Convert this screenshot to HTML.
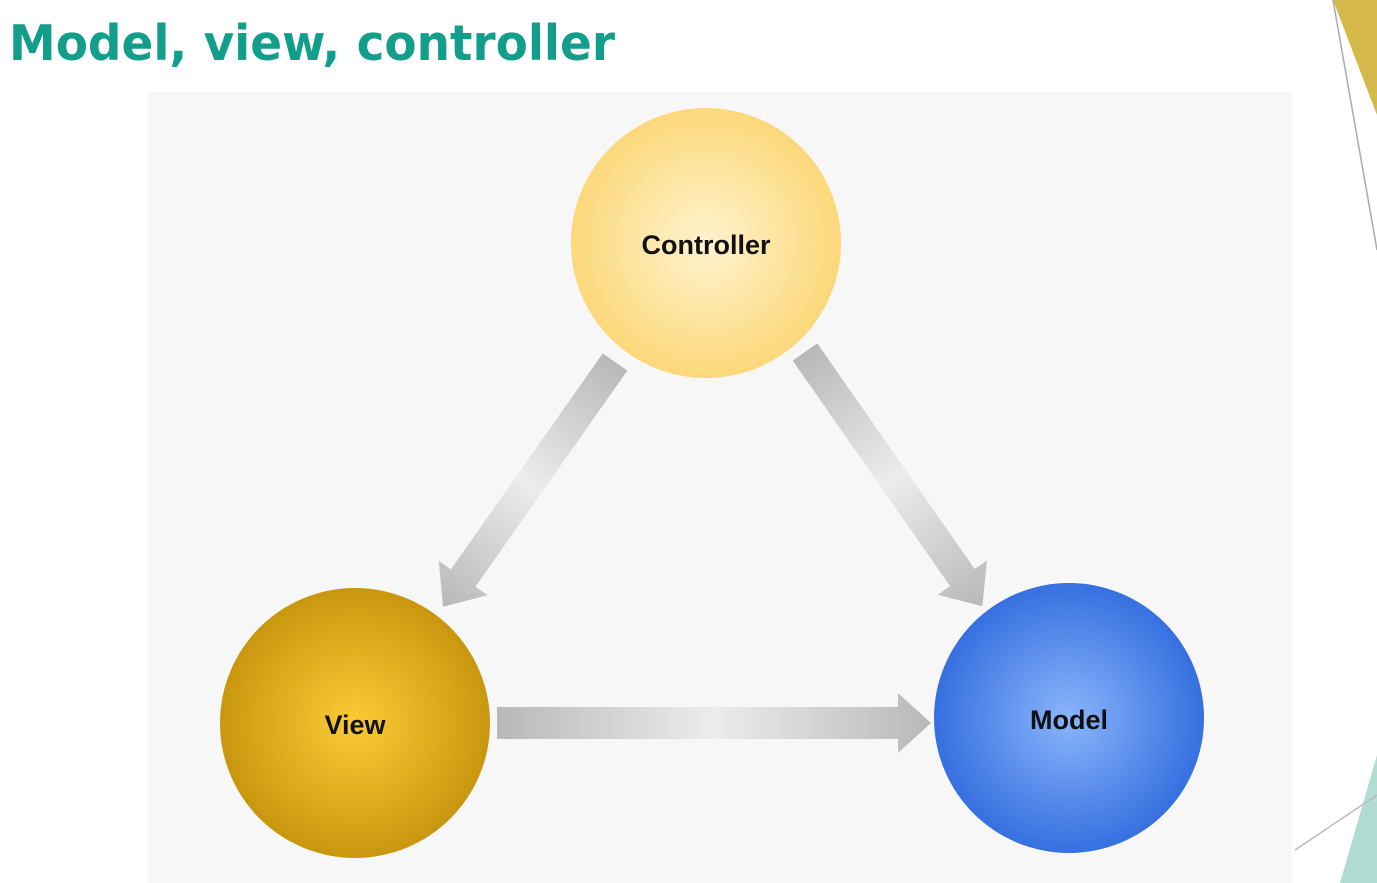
<!DOCTYPE html>
<html><head><meta charset="utf-8"><style>
html,body{margin:0;padding:0;background:#fff;}
body{width:1377px;height:883px;overflow:hidden;position:relative;font-family:"Liberation Sans",sans-serif;}
</style></head><body>
<svg width="1377" height="883" viewBox="0 0 1377 883" xmlns="http://www.w3.org/2000/svg" style="position:absolute;left:0;top:0">
<defs>
<linearGradient id="ag" x1="0" y1="0" x2="1" y2="0">
<stop offset="0" stop-color="#b8b8b8"/><stop offset="0.5" stop-color="#ececec"/><stop offset="1" stop-color="#b8b8b8"/>
</linearGradient>
<radialGradient id="gc"><stop offset="0" stop-color="#fff3cf"/><stop offset="1" stop-color="#fcd87a"/></radialGradient>
<radialGradient id="gv"><stop offset="0" stop-color="#fbcb35"/><stop offset="1" stop-color="#c9970f"/></radialGradient>
<radialGradient id="gm"><stop offset="0" stop-color="#8ab5fb"/><stop offset="1" stop-color="#3670e0"/></radialGradient>
</defs>
<rect x="148" y="92" width="1144" height="791" fill="#f7f7f7"/>
<polygon points="1333,0 1377,0 1377,115" fill="#d4b84a"/>
<line x1="1333" y1="0" x2="1377" y2="250" stroke="#aaa" stroke-width="1.5"/>
<polygon points="1377,755 1377,883 1340,883" fill="#b0dcd4"/>
<line x1="1295" y1="850" x2="1377" y2="795" stroke="#bbb" stroke-width="1.5"/>
<g transform="translate(615,362) rotate(125.1)">
<polygon points="0,-15 264,-15 264,-30 299,0 264,30 264,15 0,15" fill="url(#ag)"/></g>
<g transform="translate(805,352) rotate(55.1)">
<polygon points="0,-15 275,-15 275,-30 310,0 275,30 275,15 0,15" fill="url(#ag)"/></g>
<polygon points="497,707 898,707 898,693 931,723 898,753 898,739 497,739" fill="url(#ag)"/>
<circle cx="706" cy="243" r="135" fill="url(#gc)"/>
<circle cx="355" cy="723" r="135" fill="url(#gv)"/>
<circle cx="1069" cy="718" r="135" fill="url(#gm)"/>
<text x="706" y="254" text-anchor="middle" font-family="Liberation Sans, sans-serif" font-weight="bold" font-size="27" fill="#111">Controller</text>
<text x="355" y="734" text-anchor="middle" font-family="Liberation Sans, sans-serif" font-weight="bold" font-size="27" fill="#111">View</text>
<text x="1069" y="729" text-anchor="middle" font-family="Liberation Sans, sans-serif" font-weight="bold" font-size="27" fill="#111">Model</text>
<text x="9" y="60" font-family="DejaVu Sans, sans-serif" font-weight="bold" font-size="49" fill="#129e8a" textLength="606" lengthAdjust="spacingAndGlyphs">Model, view, controller</text>
</svg>
</body></html>
